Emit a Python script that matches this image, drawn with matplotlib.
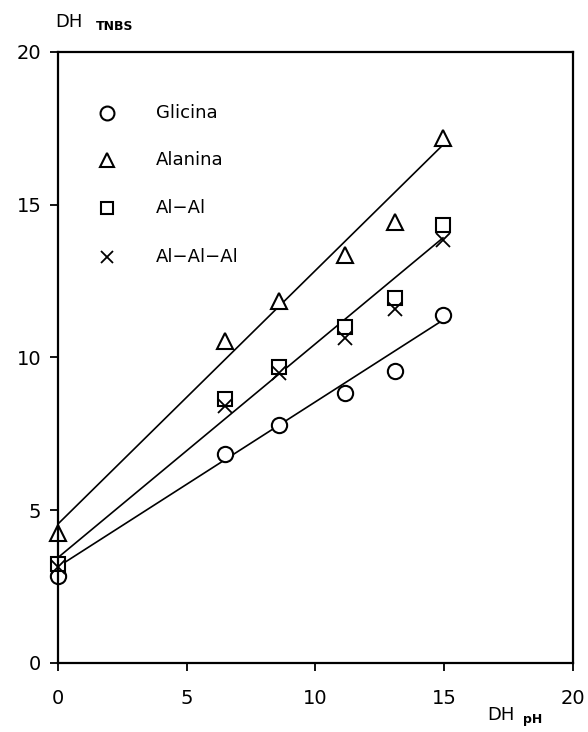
import numpy as np
import matplotlib.pyplot as plt

# data
dh_ph = [0, 6.5, 8.6, 11.15, 13.1, 14.95]
glicina = [2.85, 6.85, 7.8, 8.85, 9.55, 11.4]
alanina = [4.25, 10.55, 11.85, 13.35, 14.45, 17.2]
al_al = [3.25, 8.65, 9.7, 11.0, 11.95, 14.35]
al_al_al = [3.15, 8.4, 9.5, 10.65, 11.6, 13.85]

# regression lines (intercept, slope) as drawn
fit_glicina = (3.15, 0.54)
fit_alanina = (4.55, 0.83)
fit_alal = (3.45, 0.70)
fit_x = [0, 14.95]

labels = ["Glicina", "Alanina", "Al\u2212Al", "Al\u2212Al\u2212Al"]
markers = ["o", "^", "s", "x"]

plt.rcParams['font.family'] = ['DejaVu Sans']
fig = plt.figure(figsize=(5.88, 7.32), dpi=100)
ax = fig.add_axes([0.0986, 0.0943, 0.8759, 0.8347])

series = [glicina, alanina, al_al, al_al_al]
sizes = [11, 11, 10, 10]
for ys, m, s in zip(series, markers, sizes):
    if m == "x":
        ax.plot(dh_ph, ys, ls="none", marker=m, ms=s, mec="black", mew=1.3,
                clip_on=False)
    else:
        ax.plot(dh_ph, ys, ls="none", marker=m, ms=s, mfc="white",
                mec="black", mew=1.5, clip_on=False)

fx = np.array(fit_x)
for b, a in [fit_glicina, fit_alanina, fit_alal]:
    ax.plot(fx, b + a * fx, color="black", lw=1.2, zorder=1)

# legend drawn inside the plot area
leg_y = [18.0, 16.45, 14.9, 13.3]
for lab, m, s, yy in zip(labels, markers, sizes, leg_y):
    if m == "x":
        ax.plot([1.9], [yy], ls="none", marker=m, ms=s - 1, mec="black", mew=1.3)
    else:
        ax.plot([1.9], [yy], ls="none", marker=m, ms=s - 1, mfc="white",
                mec="black", mew=1.5)
    ax.text(3.8, yy, lab, fontsize=13, va="center", ha="left")

ax.set_xlim(0, 20)
ax.set_ylim(0, 20)
ax.set_xticks([0, 5, 10, 15, 20])
ax.set_yticks([0, 5, 10, 15, 20])
ax.tick_params(axis="x", direction="out", length=6, width=1.3, pad=13, labelsize=14)
ax.tick_params(axis="y", direction="out", length=6, width=1.3, pad=6, labelsize=14)
for sp in ax.spines.values():
    sp.set_linewidth(1.6)

fig.text(55 / 588, 1 - 22 / 732, "DH", fontsize=13, va="center", ha="left")
fig.text(96 / 588, 1 - 26 / 732, "TNBS", fontsize=9, va="center", ha="left",
         fontweight="bold")
fig.text(487 / 588, 1 - 715 / 732, "DH", fontsize=13, va="center", ha="left")
fig.text(523 / 588, 1 - 719 / 732, "pH", fontsize=9, va="center", ha="left",
         fontweight="bold")

fig.savefig("out.png", dpi=100)
